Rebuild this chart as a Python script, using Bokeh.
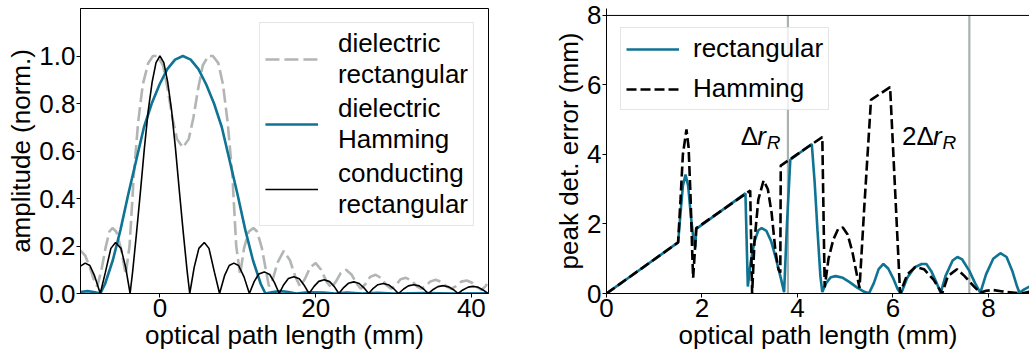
from bokeh.plotting import figure
from bokeh.layouts import row
from bokeh.models import Range1d, Span, Legend, LegendItem, FixedTicker, Label
from bokeh.embed import file_html
from bokeh.resources import INLINE

# ---------------- data: left panel (amplitude vs optical path length) ----------------
cond_x = [-10.2, -9.6, -9.0, -8.4, -7.66, -7.0, -6.3, -5.7, -5.0, -4.4, -3.83,
          -3.5, -3.0, -2.5, -2.0, -1.5, -1.0, -0.5, 0.0, 0.5, 1.0, 1.5, 2.0, 2.5, 3.0, 3.5, 3.83,
          4.4, 5.0, 5.7, 6.3, 7.0, 7.66, 8.3, 8.9, 9.5, 10.1, 10.8, 11.49,
          12.1, 12.7, 13.4, 14.1, 14.7, 15.32, 15.9, 16.5, 17.2, 17.9, 18.5, 19.15,
          19.8, 20.4, 21.1, 21.8, 22.4, 22.98, 23.6, 24.2, 24.9, 25.6, 26.2, 26.81,
          27.4, 28.0, 28.7, 29.4, 30.0, 30.64, 31.3, 31.9, 32.6, 33.3, 33.9, 34.47,
          35.1, 35.7, 36.4, 37.1, 37.7, 38.3, 38.9, 39.6, 40.2, 40.9, 41.5, 42.13]
cond_y = [0.115, 0.128, 0.118, 0.075, 0.0, 0.09, 0.19, 0.215, 0.19, 0.11, 0.0,
          0.093, 0.256, 0.43, 0.61, 0.77, 0.89, 0.972, 1.0, 0.972, 0.89, 0.77, 0.61, 0.43, 0.256, 0.093, 0.0,
          0.11, 0.19, 0.215, 0.19, 0.09, 0.0, 0.075, 0.118, 0.128, 0.118, 0.07, 0.0,
          0.05, 0.082, 0.091, 0.08, 0.047, 0.0, 0.037, 0.063, 0.071, 0.062, 0.036, 0.0,
          0.03, 0.051, 0.058, 0.05, 0.029, 0.0, 0.025, 0.043, 0.049, 0.042, 0.024, 0.0,
          0.022, 0.037, 0.042, 0.036, 0.021, 0.0, 0.019, 0.032, 0.037, 0.032, 0.018, 0.0,
          0.017, 0.029, 0.033, 0.028, 0.016, 0.0, 0.015, 0.027, 0.030, 0.026, 0.015, 0.0]

diel_rect_x = [-10.2, -9.6, -9.0, -8.5, -8.05, -7.5, -7.0, -6.5, -6.1, -5.6, -5.0, -4.4,
               -3.9, -3.35, -2.8, -2.2, -1.5, -0.9, -0.3, 0.4, 1.0, 1.6, 2.2, 2.95, 3.7, 4.3, 4.9, 5.5, 6.2,
               6.8, 7.5, 8.1, 8.7, 9.3, 9.8, 10.3, 10.8, 11.4, 12.0, 12.5, 13.1, 13.6, 14.0,
               14.5, 15.1, 15.9, 16.7, 17.4, 18.0, 18.6, 19.3, 20.0, 20.7, 21.4, 22.0,
               22.6, 23.2, 23.9, 24.6, 25.3, 25.8, 26.4, 27.0, 27.7, 28.4, 29.1, 29.7,
               30.3, 30.9, 31.6, 32.3, 33.0, 33.5, 34.1, 34.7, 35.4, 36.1, 36.8, 37.4,
               38.0, 38.7, 39.4, 40.1, 40.8, 41.3, 41.8, 42.2]
diel_rect_y = [0.18, 0.16, 0.11, 0.06, 0.03, 0.10, 0.19, 0.26, 0.276, 0.26, 0.19, 0.08,
               0.2, 0.5, 0.72, 0.88, 0.97, 1.0, 1.0, 0.96, 0.86, 0.74, 0.65, 0.615, 0.65, 0.74, 0.86, 0.96, 1.0,
               1.0, 0.97, 0.88, 0.72, 0.5, 0.2, 0.08, 0.19, 0.26, 0.276, 0.26, 0.19, 0.10, 0.03,
               0.06, 0.13, 0.179, 0.14, 0.07, 0.03, 0.06, 0.11, 0.128, 0.10, 0.05, 0.025,
               0.05, 0.085, 0.10, 0.08, 0.04, 0.02, 0.04, 0.07, 0.079, 0.065, 0.035, 0.02,
               0.035, 0.06, 0.066, 0.055, 0.03, 0.02, 0.03, 0.05, 0.058, 0.05, 0.03, 0.02,
               0.03, 0.05, 0.055, 0.045, 0.025, 0.015, 0.03, 0.05]

diel_ham_x = [-10.2, -9.3, -8.5, -7.65, -7.05, -6.05, -5.05, -4.05, -3.05, -2.05, -1.05, -0.05,
              0.95, 1.95, 2.95, 3.95, 4.95, 5.95, 6.95, 7.95, 8.95, 9.95, 10.95, 11.95, 12.95, 13.55,
              14.5, 15.5, 16.5, 17.5, 19.0, 21.0, 22.5, 24.0, 26.0, 28.0, 30.0, 34.0, 38.0, 42.2]
diel_ham_y = [0.006, 0.01, 0.006, 0.0, 0.04, 0.14, 0.27, 0.42, 0.56, 0.70, 0.80, 0.88,
              0.945, 0.985, 1.0, 0.985, 0.945, 0.88, 0.80, 0.70, 0.56, 0.42, 0.27, 0.14, 0.04, 0.0,
              0.006, 0.01, 0.006, 0.0, 0.005, 0.004, 0.0, 0.004, 0.0, 0.003, 0.0, 0.002, 0.0, 0.001]

# ---------------- data: right panel (peak detection error) ----------------
rect_x = [0.0, 1.50, 1.55, 1.60, 1.655, 1.71, 1.77, 1.83, 1.86, 1.88, 2.91, 2.96,
          3.02, 3.10, 3.18, 3.25, 3.35, 3.45, 3.55, 3.65, 3.72, 3.78, 3.85, 4.30,
          4.36, 4.42, 4.48, 4.52, 4.60, 4.70, 4.80, 4.95, 5.10, 5.25, 5.40, 5.50,
          5.60, 5.70, 5.80, 5.90, 6.00, 6.10, 6.17, 6.30, 6.45, 6.60, 6.70, 6.80,
          6.90, 7.00, 7.10, 7.25, 7.35, 7.45, 7.60, 7.72, 7.83, 7.95, 8.10, 8.25,
          8.38, 8.50, 8.60, 8.65, 8.75, 8.86]
rect_y = [0.0, 1.47, 2.3, 3.1, 3.42, 3.1, 2.2, 1.45, 1.33, 1.86, 2.88, 0.2,
          0.9, 1.5, 1.82, 1.88, 1.8, 1.5, 1.0, 0.45, 0.04, 2.0, 3.85, 4.30,
          3.2, 1.8, 0.5, 0.04, 0.3, 0.47, 0.5, 0.45, 0.32, 0.17, 0.05, 0.01,
          0.3, 0.7, 0.85, 0.72, 0.45, 0.12, 0.0, 0.45, 0.75, 0.85, 0.85, 0.65,
          0.35, 0.02, 0.5, 0.95, 1.05, 0.98, 0.65, 0.3, 0.02, 0.55, 1.0, 1.16,
          1.05, 0.65, 0.2, 0.02, 0.12, 0.2]

ham_x = [0.0, 1.50, 1.55, 1.60, 1.675, 1.72, 1.76, 1.80, 1.815, 1.85, 1.88, 3.01,
         3.05, 3.10, 3.18, 3.29, 3.38, 3.46, 3.54, 3.60, 3.64, 3.65, 4.52, 4.57,
         4.65, 4.75, 4.85, 4.95, 5.05, 5.15, 5.25, 5.30, 5.40, 5.54, 5.94, 6.15,
         6.30, 6.47, 6.65, 6.85, 7.03, 7.15, 7.34, 7.50, 7.70, 7.83, 7.95, 8.10,
         8.30, 8.50, 8.70, 8.86]
ham_y = [0.0, 1.47, 2.7, 4.0, 4.72, 4.2, 2.8, 1.0, 0.45, 1.2, 1.88, 2.96,
         0.0, 1.5, 2.7, 3.25, 3.0, 2.3, 1.2, 0.7, 0.6, 3.68, 4.50, 0.18,
         1.0, 1.55, 1.85, 1.90, 1.70, 1.2, 0.5, 0.16, 2.5, 5.57, 5.94, 0.0,
         0.55, 0.76, 0.7, 0.4, 0.0, 0.5, 0.7, 0.5, 0.2, 0.02, 0.08, 0.1,
         0.06, 0.03, 0.0, 0.05]

delta_r = [3.8, 7.6]
right_ylim = [0.0, 8.0]

left_xticks = [0, 20, 40]
left_yticks = [0.0, 0.2, 0.4, 0.6, 0.8, 1.0]
left_ytick_labels = {0.0: "0.0", 0.2: "0.2", 0.4: "0.4", 0.6: "0.6", 0.8: "0.8", 1.0: "1.0"}
right_xticks = [0, 2, 4, 6, 8]
right_yticks = [0, 2, 4, 6, 8]

FONT = "Liberation Sans"
FS = "26px"
TEAL = "#0f7393"
GREY = "#b1b5b4"
VLINE = "#aab2b0"


def style_axis(ax):
    ax.axis_label_text_font = FONT
    ax.axis_label_text_font_size = FS
    ax.axis_label_text_font_style = "normal"
    ax.axis_label_text_color = "black"
    ax.axis_label_standoff = 0
    ax.major_label_text_font = FONT
    ax.major_label_text_font_size = FS
    ax.major_label_text_color = "black"
    ax.major_label_standoff = 1
    ax.major_tick_in = 0
    ax.major_tick_out = 4
    ax.major_tick_line_color = "black"
    ax.minor_tick_line_color = None
    ax.axis_line_color = "black"


# ---------------- left figure ----------------
p1 = figure(width=520, height=354, x_range=Range1d(-10.2, 42.2), y_range=Range1d(0, 1.2),
            output_backend="svg", toolbar_location=None,
            min_border_left=80, min_border_right=32, min_border_top=8, min_border_bottom=61)
p1.grid.visible = False
p1.outline_line_color = "black"
p1.outline_line_width = 1
p1.xaxis.axis_label = "optical path length (mm)"
p1.yaxis.axis_label = "amplitude (norm.)"
p1.xaxis.ticker = FixedTicker(ticks=left_xticks)
p1.yaxis.ticker = FixedTicker(ticks=left_yticks)
p1.yaxis.major_label_overrides = left_ytick_labels
style_axis(p1.xaxis[0])
style_axis(p1.yaxis[0])

r_rect = p1.line(diel_rect_x, diel_rect_y, line_color=GREY, line_width=2.6, line_dash="14 5")
r_ham = p1.line(diel_ham_x, diel_ham_y, line_color=TEAL, line_width=2.6)
r_cond = p1.line(cond_x, cond_y, line_color="black", line_width=1.6)

leg1 = Legend(items=[LegendItem(label="dielectric\nrectangular", renderers=[r_rect]),
                     LegendItem(label="dielectric\nHamming", renderers=[r_ham]),
                     LegendItem(label="conducting\nrectangular", renderers=[r_cond])],
              location="top_right", margin=14, padding=5, spacing=3,
              glyph_width=53, glyph_height=20, label_standoff=20,
              label_text_font=FONT, label_text_font_size=FS, label_text_line_height=1.05,
              label_text_color="black",
              border_line_color="#cccccc", border_line_width=1,
              background_fill_color="white", background_fill_alpha=0.8)
p1.add_layout(leg1)

# ---------------- right figure ----------------
p2 = figure(width=509, height=354, x_range=Range1d(0, 8.86), y_range=Range1d(0, 8.2),
            output_backend="svg", toolbar_location=None,
            min_border_left=86, min_border_right=0, min_border_top=8, min_border_bottom=61)
p2.grid.visible = False
p2.outline_line_color = None
p2.xaxis.axis_label = "optical path length (mm)"
p2.yaxis.axis_label = "peak det. error (mm)"
p2.xaxis.ticker = FixedTicker(ticks=right_xticks)
p2.yaxis.ticker = FixedTicker(ticks=right_yticks)
style_axis(p2.xaxis[0])
style_axis(p2.yaxis[0])
# top spine of the axes box at the upper y limit
p2.add_layout(Span(location=right_ylim[1], dimension="width", line_color="black", line_width=1))

p2.segment(x0=delta_r, y0=[right_ylim[0]] * len(delta_r), x1=delta_r,
           y1=[right_ylim[1]] * len(delta_r), line_color=VLINE, line_width=2.2)

r2_rect = p2.line(rect_x, rect_y, line_color=TEAL, line_width=2.6)
r2_ham = p2.line(ham_x, ham_y, line_color="black", line_width=2.6, line_dash="10 4")

leg2 = Legend(items=[LegendItem(label="rectangular", renderers=[r2_rect]),
                     LegendItem(label="Hamming", renderers=[r2_ham])],
              location=(14, 183), padding=5, spacing=9,
              glyph_width=53, glyph_height=20, label_standoff=14,
              label_text_font=FONT, label_text_font_size=FS, label_text_line_height=1.0,
              label_text_color="black",
              border_line_color="#cccccc", border_line_width=1,
              background_fill_color="white", background_fill_alpha=0.8)
p2.add_layout(leg2)

# annotations  Δr_R  and 2Δr_R
ann_y = 4.52
def math_label(x0, prefix):
    off = 0
    parts = []
    if prefix:
        parts.append(Label(x=x0, y=ann_y, x_offset=off, text=prefix, text_font=FONT,
                           text_font_size=FS, text_color="black", text_baseline="alphabetic"))
        off += 14.5
    parts.append(Label(x=x0, y=ann_y, x_offset=off, text="Δ", text_font=FONT,
                       text_font_size=FS, text_color="black", text_baseline="alphabetic"))
    off += 16.5
    parts.append(Label(x=x0, y=ann_y, x_offset=off, text="r", text_font=FONT, text_color="black",
                       text_font_size=FS, text_font_style="italic", text_baseline="alphabetic"))
    off += 9.5
    parts.append(Label(x=x0, y=ann_y, x_offset=off, y_offset=-6, text="R", text_font=FONT,
                       text_color="black", text_font_size="19px", text_font_style="italic",
                       text_baseline="alphabetic"))
    for lb in parts:
        p2.add_layout(lb)

math_label(2.81, "")
math_label(6.19, "2")

layout = row(p1, p2)
open("out.html", "w").write(file_html(layout, INLINE))
